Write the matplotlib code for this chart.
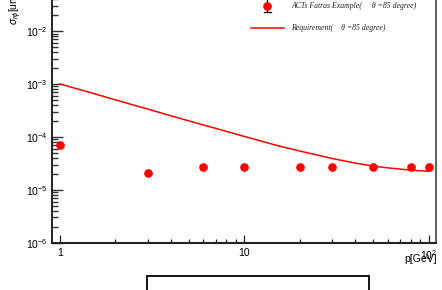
import matplotlib
matplotlib.use("Agg")
import matplotlib.pyplot as plt
from matplotlib.lines import Line2D
from matplotlib.patches import Rectangle
from matplotlib.ticker import LogLocator, NullFormatter, FixedLocator, FixedFormatter

plt.rcParams['font.family'] = ['Liberation Sans', 'DejaVu Sans']
plt.rcParams['mathtext.fontset'] = 'custom'
plt.rcParams['mathtext.rm'] = 'Liberation Sans'
plt.rcParams['mathtext.it'] = 'Liberation Sans:italic'
plt.rcParams['mathtext.bf'] = 'Liberation Sans:bold'

# ---- data ----
p_data = [1, 3, 6, 10, 20, 30, 50, 80, 100]
sigma_data = [7.1e-5, 2.1e-5, 2.65e-5, 2.65e-5, 2.65e-5, 2.65e-5, 2.65e-5, 2.65e-5, 2.65e-5]

p_req = [1, 1.5, 2, 3, 4, 6, 8, 10, 15, 20, 30, 40, 50, 60, 80, 100]
sigma_req = [1.0e-3, 6.7e-4, 5.0e-4, 3.35e-4, 2.5e-4, 1.68e-4, 1.27e-4, 1.02e-4,
             6.9e-5, 5.4e-5, 3.9e-5, 3.2e-5, 2.8e-5, 2.6e-5, 2.35e-5, 2.24e-5]

xtick_vals = [1, 10, 100]
xtick_labels = ['1', '10', r'$10^{2}$']
ytick_vals = [1e-6, 1e-5, 1e-4, 1e-3, 1e-2]
ytick_labels = [r'$10^{-6}$', r'$10^{-5}$', r'$10^{-4}$', r'$10^{-3}$', r'$10^{-2}$']

legend_labels = [u'ACTs Fatras Example(     \u03b8 =85 degree)',
                 u'Requirement(    \u03b8 =85 degree)']
xlabel = 'p[GeV]'
ylabel = r'$\sigma_{r\phi}$[um]'

W, H = 442, 290
fig = plt.figure(figsize=(W / 100, H / 100), dpi=100)
fig.patch.set_facecolor('white')

left_px, right_px = 52, 436
bottom_px, top_px = 242.7, -21.8
ax = fig.add_axes([left_px / W, (H - bottom_px) / H,
                   (right_px - left_px) / W, (bottom_px - top_px) / H])
ax.set_xscale('log')
ax.set_yscale('log')
ax.set_xlim(0.905, 109.6)
ax.set_ylim(1e-6, 1e-1)

ax.plot(p_req, sigma_req, color='#ff0000', lw=1.1, zorder=2)
ax.plot(p_data, sigma_data, 'o', color='#ff0000', ms=5.2, mec='#ff0000', zorder=3)

ax.xaxis.set_major_locator(FixedLocator(xtick_vals))
ax.xaxis.set_major_formatter(FixedFormatter(xtick_labels))
ax.xaxis.set_minor_locator(LogLocator(base=10, subs=range(2, 10), numticks=20))
ax.xaxis.set_minor_formatter(NullFormatter())
ax.yaxis.set_major_locator(FixedLocator(ytick_vals))
ax.yaxis.set_major_formatter(FixedFormatter(ytick_labels))
ax.yaxis.set_minor_locator(LogLocator(base=10, subs=range(2, 10), numticks=20))
ax.yaxis.set_minor_formatter(NullFormatter())

ax.tick_params(axis='x', which='major', direction='in', length=6.0, width=0.9,
               labelsize=7.5, pad=4, color='#222222', bottom=True, top=False)
ax.tick_params(axis='x', which='minor', direction='in', length=3.0, width=0.9,
               color='#222222', bottom=True, top=False)
ax.tick_params(axis='y', which='major', direction='in', length=8.0, width=1.0,
               labelsize=7.5, pad=3, color='#333333', left=True, right=False)
ax.tick_params(axis='y', which='minor', direction='in', length=4.5, width=1.0,
               color='#333333', left=True, right=False)

ax.spines['bottom'].set_linewidth(1.5)
ax.spines['bottom'].set_color('#222222')
ax.spines['left'].set_linewidth(1.2)
ax.spines['left'].set_color('black')
ax.spines['right'].set_linewidth(1.2)
ax.spines['right'].set_color('#444444')
ax.spines['top'].set_visible(False)

# axis titles (ROOT style)
fig.text(437 / W, (H - 259) / H, xlabel, ha='right', va='center', fontsize=7.5)
fig.text(16 / W, (H - 25) / H, ylabel, rotation=90, ha='center', va='bottom', fontsize=7.5)

# legend drawn in figure pixel coordinates
def fx(x):
    return x / W

def fy(y):
    return (H - y) / H

fig.add_artist(Line2D([fx(267), fx(267)], [fy(0), fy(12)], color='black', lw=0.9,
                      transform=fig.transFigure))
fig.add_artist(Line2D([fx(263.5), fx(270.5)], [fy(12), fy(12)], color='black', lw=0.9,
                      transform=fig.transFigure))
fig.add_artist(Line2D([fx(267)], [fy(6)], marker='o', color='#ff0000', ms=5.2,
                      transform=fig.transFigure))
fig.add_artist(Line2D([fx(251), fx(284)], [fy(28), fy(28)], color='#ff0000', lw=1.1,
                      transform=fig.transFigure))
fig.text(fx(291), fy(6), legend_labels[0], ha='left', va='center', fontsize=5.6,
         family=['Liberation Serif', 'DejaVu Serif'], style='italic', color='#222222')
fig.text(fx(291), fy(28), legend_labels[1], ha='left', va='center', fontsize=5.6,
         family=['Liberation Serif', 'DejaVu Serif'], style='italic', color='#222222')

# box at the bottom (partially visible pad/title frame)
fig.add_artist(Rectangle((fx(147), fy(300)), (369 - 147) / W, (300 - 276) / H,
                         fill=False, edgecolor='black', lw=1.3,
                         transform=fig.transFigure))

fig.savefig('out.png', dpi=100)
